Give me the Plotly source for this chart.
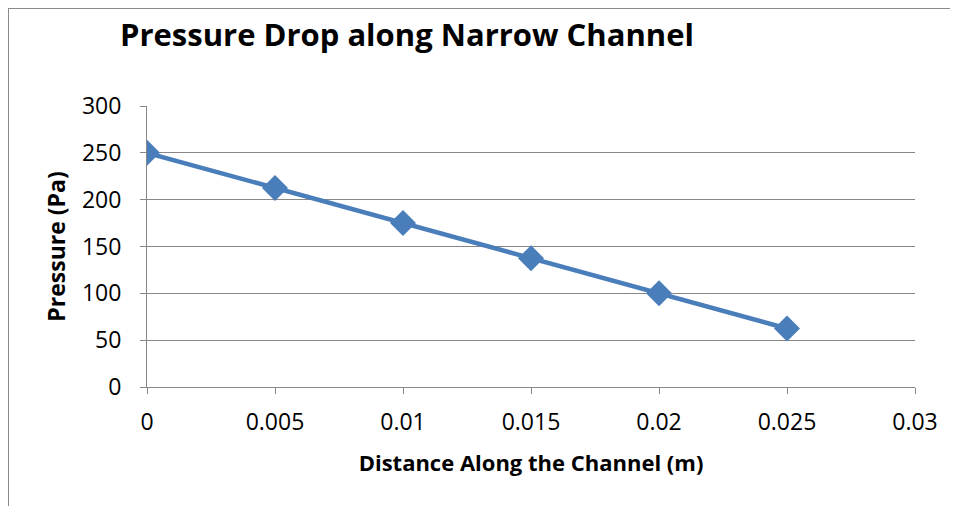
import plotly.graph_objects as go

distance = [0, 0.005, 0.01, 0.015, 0.02, 0.025]
pressure = [250, 212.5, 175, 137.5, 100, 62.5]
x_ticks = [0, 0.005, 0.01, 0.015, 0.02, 0.025, 0.03]
x_tick_labels = ["0", "0.005", "0.01", "0.015", "0.02", "0.025", "0.03"]
y_ticks = [0, 50, 100, 150, 200, 250, 300]

# the page body adds an 8px offset; figure coords = screen coords - 8
OFF = 8
W, H = 958 - OFF, 506 - OFF
L, R, T, B = 147 - OFF, 43, 106 - OFF, 119
pw, ph = W - L - R, H - T - B

def px_x(p):
    return (p - OFF - L) / pw

def px_y(p):
    return (H - B - (p - OFF)) / ph

FONT = "Open Sans"
GRID = "#878787"

fig = go.Figure()
fig.add_trace(go.Scatter(
    x=distance, y=pressure, mode="lines+markers",
    line=dict(color="#4A7EBB", width=4.5),
    marker=dict(symbol="diamond", size=20, color="#4A7EBB"),
    showlegend=False, hoverinfo="skip",
))

fig.update_layout(
    width=W, height=H,
    margin=dict(l=L, r=R, t=T, b=B),
    paper_bgcolor="white", plot_bgcolor="white",
    font=dict(family=FONT, color="#000000"),
    title=dict(text="<b>Pressure Drop along Narrow Channel</b>",
               x=(120 - OFF) / W, xanchor="left",
               y=1 - (35 - OFF) / H, yanchor="middle",
               font=dict(family=FONT, size=31, color="#000000")),
    xaxis=dict(range=[0, 0.03], tickvals=x_ticks, ticktext=x_tick_labels,
               showgrid=False, zeroline=False,
               showline=True, linecolor=GRID, linewidth=1,
               ticks="outside", ticklen=6, tickcolor=GRID, tickwidth=1,
               tickfont=dict(family=FONT, size=23, color="#000000"),
               ticklabelstandoff=8,
               title=dict(text="<b>Distance Along the Channel (m)</b>",
                          font=dict(family=FONT, size=22, color="#000000"),
                          standoff=20)),
    yaxis=dict(range=[0, 300], tickvals=y_ticks,
               showgrid=True, gridcolor=GRID, gridwidth=1,
               zeroline=False,
               showline=True, linecolor=GRID, linewidth=1,
               ticks="outside", ticklen=6, tickcolor=GRID, tickwidth=1,
               tickfont=dict(family=FONT, size=23, color="#000000"),
               ticklabelstandoff=14,
               title=dict(text="<b>Pressure (Pa)</b>",
                          font=dict(family=FONT, size=23, color="#000000"),
                          standoff=9)),
)

# outer chart frame (left and top edges visible)
fig.add_shape(type="line", xref="paper", yref="paper",
              x0=px_x(8), x1=px_x(970), y0=px_y(8), y1=px_y(8),
              line=dict(color="#8A8A8A", width=2))
fig.add_shape(type="line", xref="paper", yref="paper",
              x0=px_x(8), x1=px_x(8), y0=px_y(8), y1=px_y(520),
              line=dict(color="#8A8A8A", width=2))

fig.write_html("out.html")
